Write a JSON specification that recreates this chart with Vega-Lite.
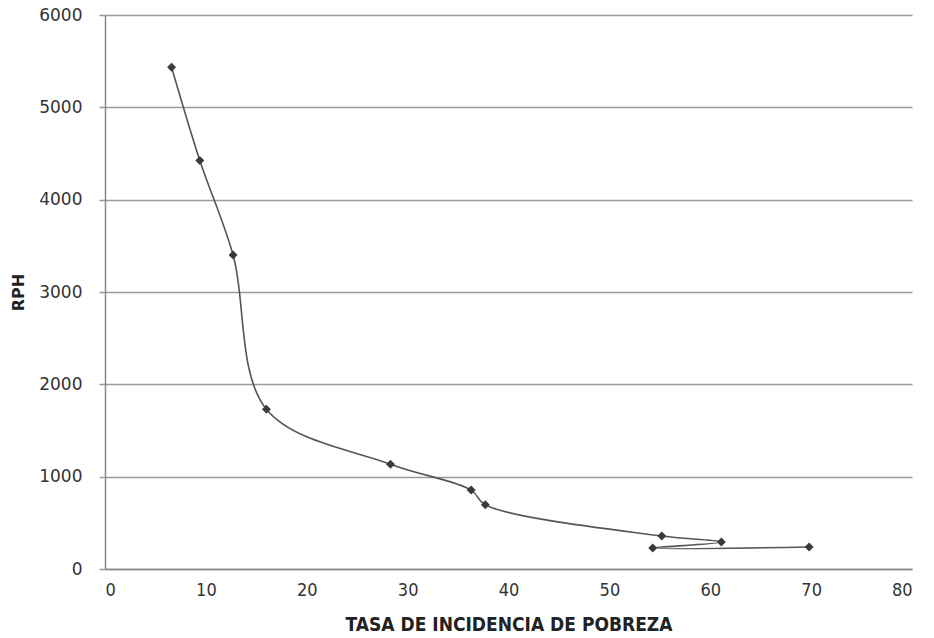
{
  "$schema": "https://vega.github.io/schema/vega-lite/v6.json",
  "autosize": "none",
  "width": 807,
  "height": 554,
  "padding": {"left": 105, "top": 15, "right": 22, "bottom": 69},
  "background": "white",
  "config": {"view": {"stroke": null}},
  "data": {
    "values": [
      {"i": 1, "tasa": 6.6, "rph": 5435},
      {"i": 2, "tasa": 9.4, "rph": 4425},
      {"i": 3, "tasa": 12.7, "rph": 3400},
      {"i": 4, "tasa": 16.0, "rph": 1730},
      {"i": 5, "tasa": 28.3, "rph": 1135},
      {"i": 6, "tasa": 36.3, "rph": 855},
      {"i": 7, "tasa": 37.7, "rph": 695},
      {"i": 8, "tasa": 55.2, "rph": 357},
      {"i": 9, "tasa": 61.1, "rph": 292},
      {"i": 10, "tasa": 54.3, "rph": 228},
      {"i": 11, "tasa": 69.8, "rph": 238}
    ]
  },
  "encoding": {
    "x": {
      "field": "tasa", "type": "quantitative",
      "scale": {"domain": [0, 80], "nice": false},
      "axis": {
        "title": "TASA DE INCIDENCIA DE POBREZA",
        "values": [0, 10, 20, 30, 40, 50, 60, 70, 80],
        "format": "d",
        "grid": false, "ticks": false, "domainColor": "#888", "domainWidth": 1.5,
        "labelFont": "DejaVu Sans Condensed", "labelFontSize": 18, "labelColor": "#333", "labelPadding": 12,
        "titleFont": "DejaVu Sans Condensed", "titleFontSize": 19, "titleFontWeight": "bold", "titleColor": "#222", "titlePadding": 16
      }
    },
    "y": {
      "field": "rph", "type": "quantitative",
      "scale": {"domain": [0, 6000], "nice": false},
      "axis": {
        "title": "RPH",
        "values": [0, 1000, 2000, 3000, 4000, 5000, 6000],
        "format": "d",
        "grid": true, "gridColor": "#999", "gridWidth": 1.5,
        "ticks": true, "tickSize": 6, "tickColor": "#999", "tickWidth": 1.5,
        "domainColor": "#888", "domainWidth": 1.5,
        "labelFont": "DejaVu Sans", "labelFontSize": 17, "labelColor": "#333", "labelPadding": 17,
        "titleFont": "DejaVu Sans", "titleFontSize": 16, "titleFontWeight": "bold", "titleColor": "#222", "titlePadding": 12
      }
    },
    "order": {"field": "i", "type": "quantitative"}
  },
  "layer": [
    {"mark": {"type": "line", "interpolate": "catmull-rom", "color": "#555", "strokeWidth": 1.6}},
    {"mark": {"type": "point", "shape": "diamond", "filled": true, "color": "#3a3a3a", "opacity": 1, "size": 80}}
  ]
}
